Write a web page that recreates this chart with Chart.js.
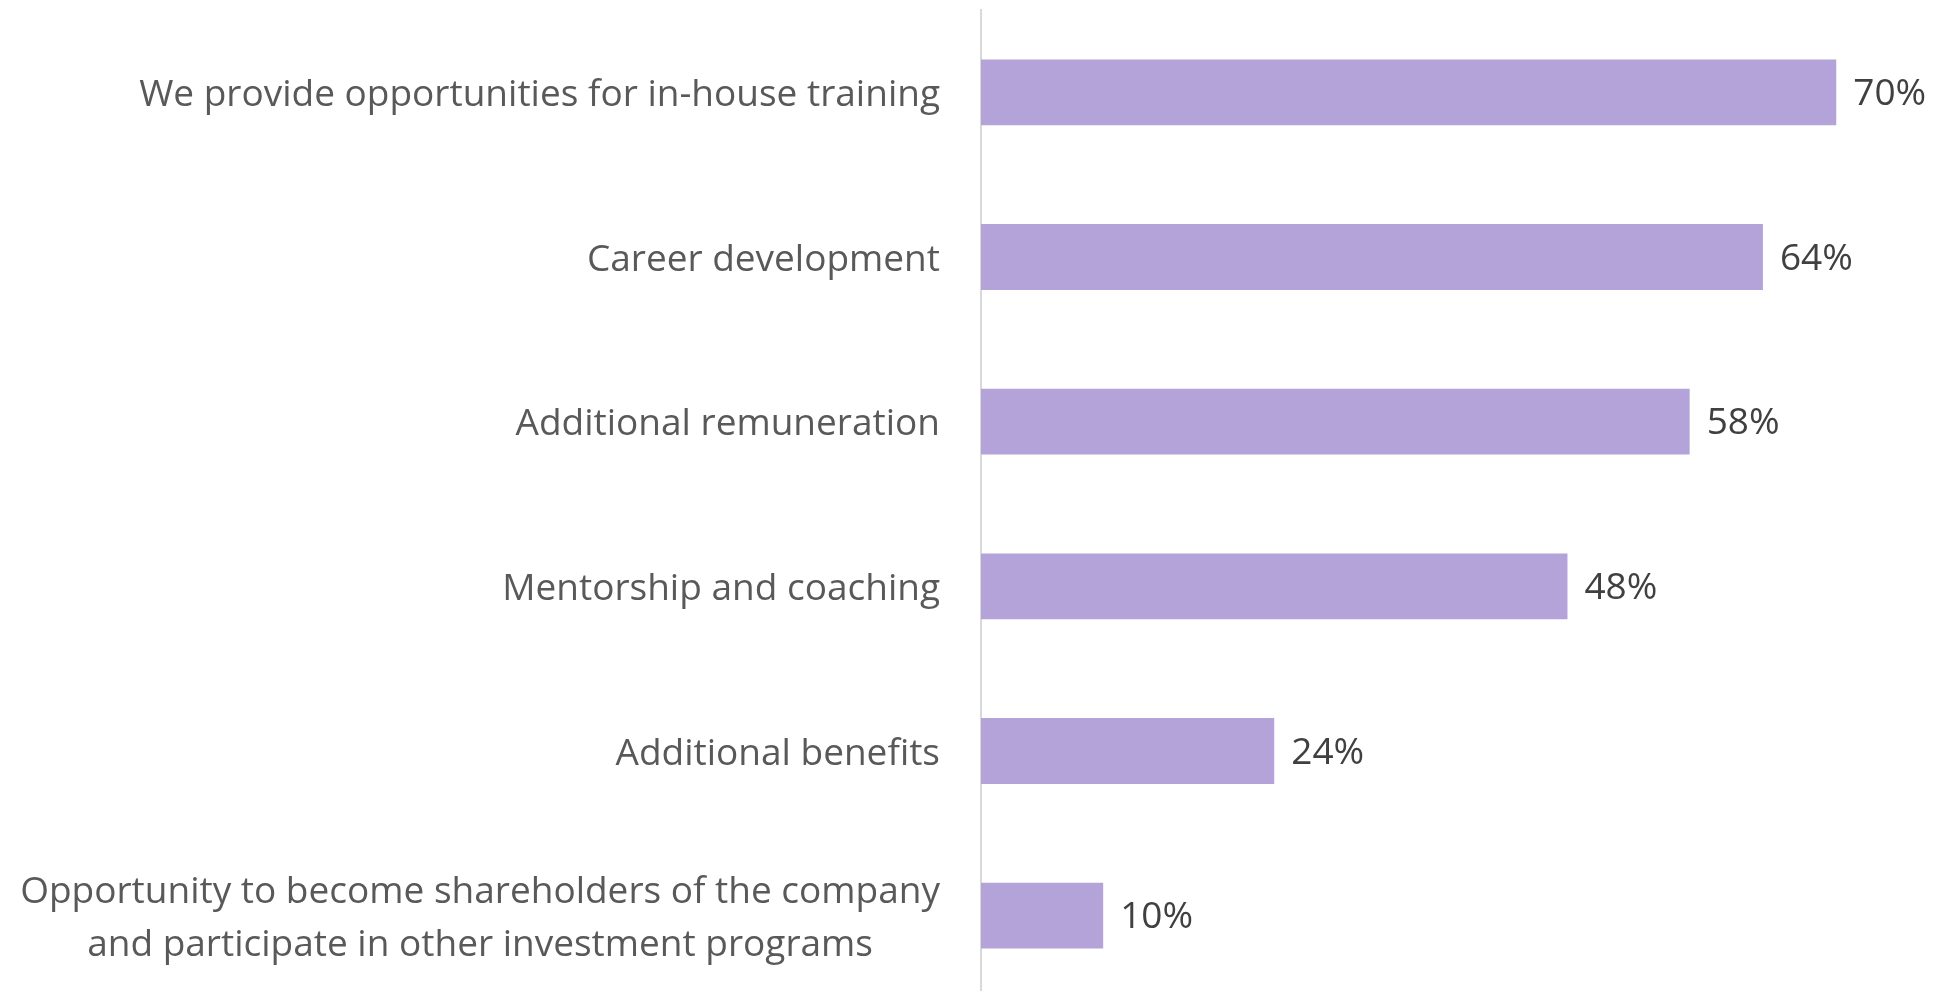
<!DOCTYPE html>
<html>
<head>
<meta charset="utf-8">
<script src="https://cdn.jsdelivr.net/npm/chart.js@4"></script>
<style>
    html, body { margin: 0; padding: 0; background: #ffffff; overflow: hidden; }
    #chartBox { width: 1934px; height: 1000px; position: relative; }
</style>
</head>
<body>
<div id="chartBox"><canvas id="benefitsChart"></canvas></div>
<script>
/**
 * Gráfico de barras horizontales con etiquetas de porcentaje
 */
const BenefitsChart = {
    /**
     * Datos del reporte
     */
    reportData: {
        entities: [
            { name: 'We provide opportunities for in-house training', value: 70 },
            { name: 'Career development', value: 64 },
            { name: 'Additional remuneration', value: 58 },
            { name: 'Mentorship and coaching', value: 48 },
            { name: 'Additional benefits', value: 24 },
            { name: ['Opportunity to become shareholders of the company', 'and participate in other investment programs'], value: 10 }
        ]
    },

    barColor: 'rgb(180, 163, 217)',
    fontFamily: '"Open Sans", "Noto Sans", sans-serif',
    fontSize: 37,
    lineHeight: 53,
    labelGap: 41,

    /**
     * Plugin que dibuja las etiquetas de categoría (multilínea centrada)
     * y el valor al final de cada barra
     */
    labelsPlugin() {
        const self = this;
        return {
            id: 'labelsPlugin',
            afterDatasetsDraw(chart) {
                const ctx = chart.ctx;
                const yScale = chart.scales.y;
                const meta = chart.getDatasetMeta(0);
                const rightEdge = chart.chartArea.left - self.labelGap;
                ctx.save();
                ctx.font = `${self.fontSize}px ${self.fontFamily}`;
                ctx.textBaseline = 'middle';

                // Etiquetas de categoría
                ctx.fillStyle = '#595959';
                chart.data.labels.forEach((label, i) => {
                    const y = yScale.getPixelForTick(i) + 3;
                    const lines = Array.isArray(label) ? label : [label];
                    if (lines.length === 1) {
                        ctx.textAlign = 'right';
                        ctx.fillText(lines[0], rightEdge, y);
                        return;
                    }
                    // Varias líneas: centradas respecto a la más larga
                    const maxWidth = Math.max(...lines.map(line => ctx.measureText(line).width));
                    const centerX = rightEdge - maxWidth / 2;
                    const startY = y - (lines.length - 1) * self.lineHeight / 2;
                    ctx.textAlign = 'center';
                    lines.forEach((line, j) => {
                        ctx.fillText(line, centerX, startY + j * self.lineHeight);
                    });
                });

                // Valores
                ctx.fillStyle = '#404040';
                ctx.textAlign = 'left';
                meta.data.forEach((bar, i) => {
                    const value = chart.data.datasets[0].data[i];
                    ctx.fillText(`${value}%`, bar.x + 17, bar.y + 2);
                });
                ctx.restore();
            }
        };
    },

    /**
     * Crea el gráfico
     * @param {string} canvasId ID del elemento canvas
     */
    createChart(canvasId) {
        const canvas = document.getElementById(canvasId);
        const labels = this.reportData.entities.map(entity => entity.name);
        const values = this.reportData.entities.map(entity => entity.value);

        return new Chart(canvas, {
            type: 'bar',
            data: {
                labels: labels,
                datasets: [{
                    data: values,
                    backgroundColor: this.barColor,
                    borderWidth: 0,
                    barPercentage: 0.4,
                    categoryPercentage: 1
                }]
            },
            options: {
                indexAxis: 'y',
                responsive: true,
                maintainAspectRatio: false,
                animation: false,
                layout: {
                    padding: { top: 10, bottom: 2, left: 0, right: 0 }
                },
                plugins: {
                    legend: { display: false },
                    tooltip: { enabled: false }
                },
                scales: {
                    x: {
                        display: false,
                        min: 0,
                        max: 78
                    },
                    y: {
                        // Ancho fijo del eje y sin márgenes extra arriba/abajo
                        afterFit: (axis) => {
                            axis.width = 981;
                            axis.paddingTop = 0;
                            axis.paddingBottom = 0;
                        },
                        grid: { display: false, drawTicks: false },
                        border: { display: true, color: '#d9d9d9', width: 2 },
                        ticks: { display: false }
                    }
                }
            },
            plugins: [this.labelsPlugin()]
        });
    }
};

BenefitsChart.createChart('benefitsChart');
</script>
</body>
</html>
